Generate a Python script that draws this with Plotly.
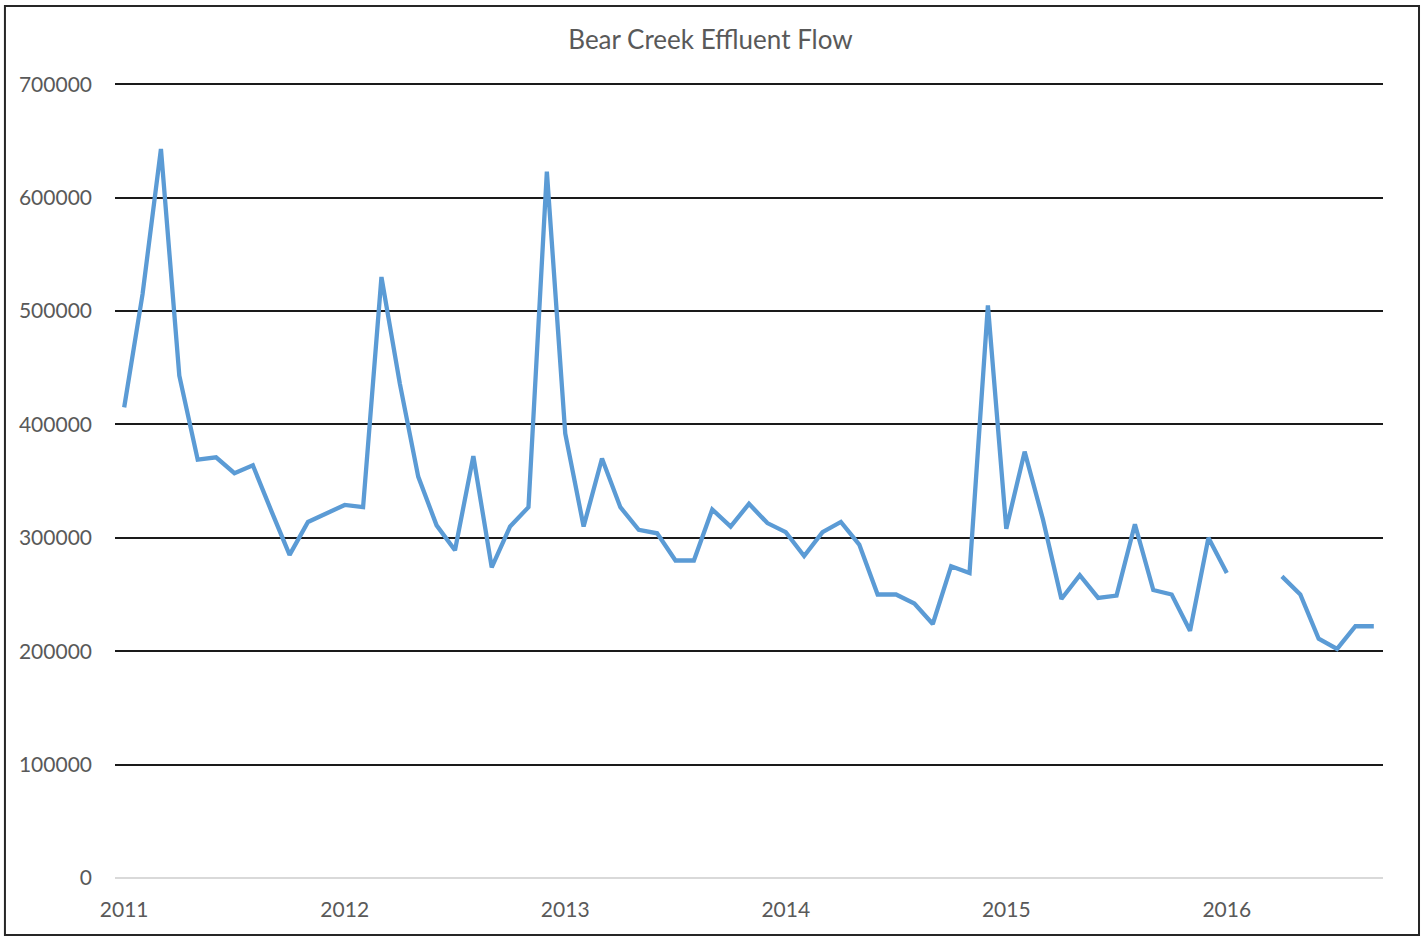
import plotly.graph_objects as go

# monthly effluent flow, Jan 2011 - Sep 2016 (Feb/Mar 2016 missing)
months = [f"{y}-{m:02d}" for y in range(2011, 2017) for m in range(1, 13)][:69]
flow = [
    415000, 515000, 643000, 443000, 369000, 371000, 357000, 364000, 324000, 285000, 314000, 321000,
    329000, 327000, 530000, 436000, 354000, 311000, 289000, 372000, 274000, 310000, 327000, 623000,
    392000, 310000, 370000, 327000, 307000, 304000, 280000, 280000, 325000, 310000, 330000, 313000,
    305000, 284000, 305000, 314000, 294000, 250000, 250000, 242000, 224000, 275000, 269000, 505000,
    308000, 376000, 316000, 246000, 267000, 247000, 249000, 312000, 254000, 250000, 218000, 300000,
    269000, None, None, 266000, 250000, 211000, 202000, 222000, 222000,
]
year_ticks = ["2011-01", "2012-01", "2013-01", "2014-01", "2015-01", "2016-01"]
year_labels = ["2011", "2012", "2013", "2014", "2015", "2016"]

text_color = "#595959"
font_family = "Lato, 'Open Sans', sans-serif"

fig = go.Figure()

fig.add_trace(go.Scatter(
    x=months,
    y=flow,
    mode="lines",
    line=dict(color="#5B9BD5", width=4.3),
    connectgaps=False,
    showlegend=False,
))

# outer chart frame
fig.add_shape(
    type="rect", xref="paper", yref="paper",
    x0=-0.0868, x1=1.0284, y0=-0.0716, y1=1.0955,
    line=dict(color="#262626", width=2),
    layer="below",
)

fig.update_layout(
    width=1421,
    height=936,
    paper_bgcolor="white",
    plot_bgcolor="white",
    font=dict(family=font_family, color=text_color, size=21),
    title=dict(
        text="Bear Creek Effluent Flow",
        x=0.5, xanchor="center",
        y=0.957, yanchor="middle",
        font=dict(size=26, color=text_color),
    ),
    xaxis=dict(
        type="category",
        range=[-0.5, 68.5],
        tickmode="array",
        tickvals=year_ticks,
        ticktext=year_labels,
        showgrid=False,
        showline=False,
        zeroline=False,
        ticks="",
        ticklabelstandoff=17,
    ),
    yaxis=dict(
        range=[0, 702000],
        tickmode="linear",
        tick0=0,
        dtick=100000,
        tickformat="d",
        showgrid=True,
        gridcolor="#1a1a1a",
        gridwidth=1.5,
        zeroline=True,
        zerolinecolor="#d9d9d9",
        zerolinewidth=2,
        showline=False,
        ticks="",
        ticklabelstandoff=22,
    ),
    margin=dict(l=115, r=38, t=82, b=58),
)

fig.write_html(
    "out.html",
    config={"displayModeBar": False},
    post_script="document.body.style.margin='0';",
)
